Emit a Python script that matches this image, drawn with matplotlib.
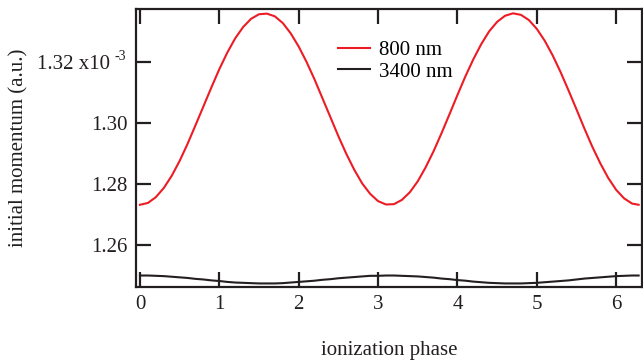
import matplotlib
matplotlib.use("Agg")
import matplotlib.pyplot as plt

plt.rcParams['font.family'] = ['Liberation Serif', 'DejaVu Serif']

phase = [0.0, 0.1, 0.2, 0.3, 0.4, 0.5, 0.6, 0.7, 0.8, 0.9,
         1.0, 1.1, 1.2, 1.3, 1.4, 1.5, 1.6, 1.7, 1.8, 1.9,
         2.0, 2.1, 2.2, 2.3, 2.4, 2.5, 2.6, 2.7, 2.8, 2.9,
         3.0, 3.1, 3.2, 3.3, 3.4, 3.5, 3.6, 3.7, 3.8, 3.9,
         4.0, 4.1, 4.2, 4.3, 4.4, 4.5, 4.6, 4.7, 4.8, 4.9,
         5.0, 5.1, 5.2, 5.3, 5.4, 5.5, 5.6, 5.7, 5.8, 5.9,
         6.0, 6.1, 6.2, 6.283]

p800 = [1.2732, 1.2738, 1.2757, 1.2787, 1.2827, 1.2876, 1.2932, 1.2993, 1.3055, 1.3117,
        1.3177, 1.3231, 1.3278, 1.3315, 1.3342, 1.3357, 1.3359, 1.3350, 1.3328, 1.3294,
        1.3251, 1.3200, 1.3143, 1.3081, 1.3019, 1.2957, 1.2899, 1.2847, 1.2802, 1.2768,
        1.2744, 1.2733, 1.2734, 1.2748, 1.2773, 1.2809, 1.2855, 1.2908, 1.2967, 1.3029,
        1.3092, 1.3153, 1.3209, 1.3259, 1.3301, 1.3332, 1.3352, 1.3360, 1.3355, 1.3338,
        1.3309, 1.3270, 1.3222, 1.3167, 1.3107, 1.3045, 1.2982, 1.2922, 1.2868, 1.2820,
        1.2781, 1.2753, 1.2736, 1.2732]

p3400 = [1.2500, 1.2500, 1.2499, 1.2498, 1.2496, 1.2494, 1.2492, 1.2489, 1.2487, 1.2484,
         1.2482, 1.2479, 1.2477, 1.2476, 1.2475, 1.2474, 1.2474, 1.2474, 1.2475, 1.2477,
         1.2479, 1.2481, 1.2483, 1.2486, 1.2488, 1.2491, 1.2493, 1.2495, 1.2497, 1.2499,
         1.2499, 1.2500, 1.2500, 1.2499, 1.2498, 1.2497, 1.2495, 1.2493, 1.2490, 1.2488,
         1.2485, 1.2483, 1.2480, 1.2478, 1.2476, 1.2475, 1.2474, 1.2474, 1.2474, 1.2475,
         1.2476, 1.2478, 1.2480, 1.2482, 1.2484, 1.2487, 1.2490, 1.2492, 1.2494, 1.2496,
         1.2498, 1.2499, 1.2500, 1.2500]

series_labels = ["800 nm", "3400 nm"]
xticks = [0, 1, 2, 3, 4, 5, 6]
yticks = [1.26, 1.28, 1.30, 1.32]
ytick_labels = ["1.26", "1.28", "1.30", ""]
top_label = "1.32 x10"
exponent = "-3"

axc = '#231f20'
fs = 15
fig = plt.figure(figsize=(6.43, 3.60), dpi=100)
ax = fig.add_axes([0.2115, 0.2025, 0.7875, 0.7715])
ax.plot(phase, p800, color='#ed1c24', lw=1.5, label=series_labels[0])
ax.plot(phase, p3400, color=axc, lw=1.5, label=series_labels[1])

ax.set_xlim(-0.05, 6.33)
ax.set_ylim(1.2462, 1.3373)
ax.set_xticks(xticks)
ax.set_xticklabels([str(t) for t in xticks])
ax.set_yticks(yticks)
ax.set_yticklabels(ytick_labels)
for s in ax.spines.values():
    s.set_linewidth(1.6)
    s.set_color(axc)
ax.tick_params(direction='in', length=11, width=1.6, color=axc, labelsize=fs,
               top=True, right=True, labelcolor=axc)
ax.tick_params(axis='y', pad=6)
ax.tick_params(axis='x', pad=6)

# top y tick label with exponent
ax.annotate(top_label, xy=(0, yticks[3]), xycoords=('axes fraction', 'data'),
            xytext=(-18.5, -1.5), textcoords='offset points', ha='right', va='center',
            fontsize=fs, color=axc)
ax.annotate(exponent, xy=(0, yticks[3]), xycoords=('axes fraction', 'data'),
            xytext=(-7, 4), textcoords='offset points', ha='right', va='center',
            fontsize=10, color=axc)

ax.set_xlabel("ionization phase", fontsize=fs, color=axc, labelpad=19)
ax.set_ylabel("initial momentum (a.u.)", fontsize=fs, color=axc)
ax.yaxis.set_label_coords(-0.213, 0.5)

leg = ax.legend(loc='upper left', bbox_to_anchor=(0.398, 0.888), frameon=False,
                fontsize=fs, handlelength=1.54, handletextpad=0.43, labelspacing=0.1,
                borderaxespad=0, borderpad=0)

fig.savefig("out.png", dpi=100)
